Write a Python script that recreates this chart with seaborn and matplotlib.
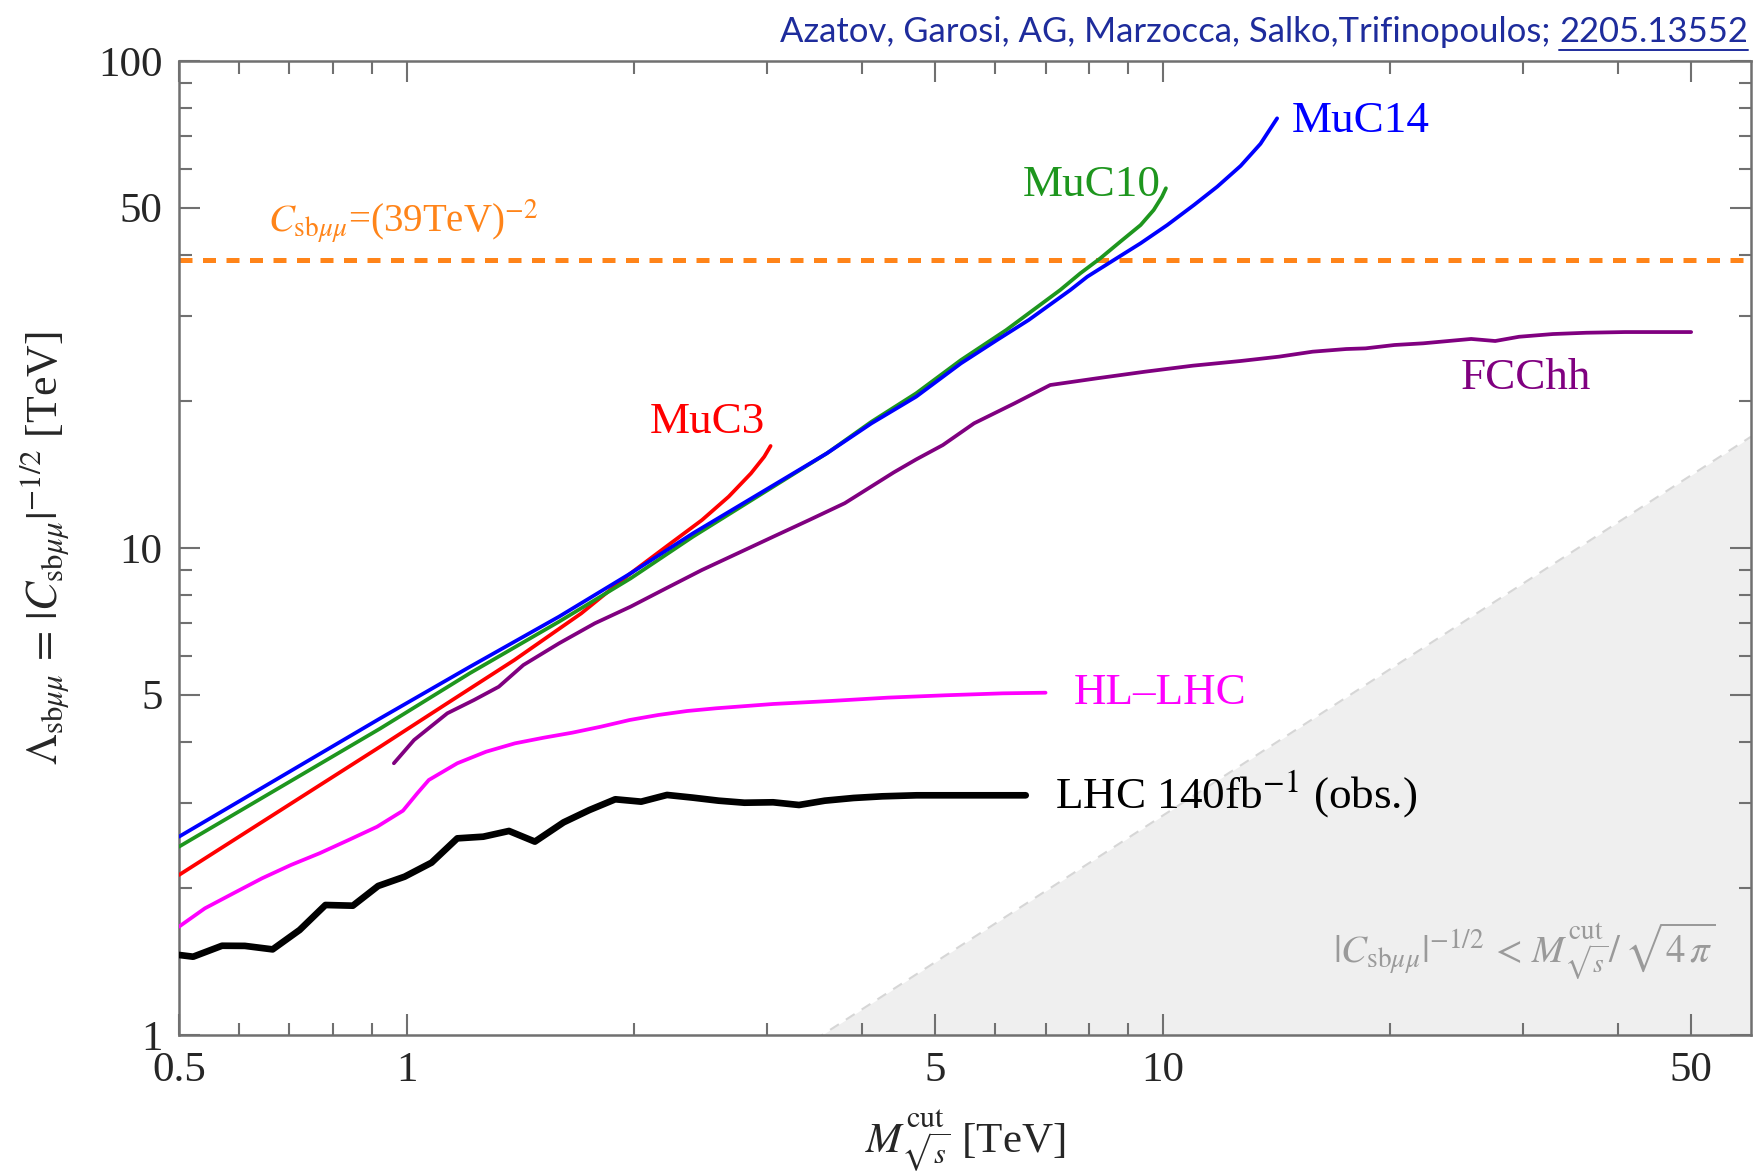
import numpy as np
import pandas as pd
import matplotlib
matplotlib.use("Agg")
import matplotlib.pyplot as plt
import seaborn as sns
from matplotlib.ticker import FixedLocator, FixedFormatter, NullFormatter
from matplotlib.lines import Line2D

# ---------------- data ----------------
muc14_x = [0.5, 0.923, 1.212, 1.591, 1.978, 2.392, 2.933, 3.597, 4.12, 4.72, 5.41, 6.04,
           6.65, 7.55, 7.95, 8.62, 9.35, 10.14, 11.0, 11.81, 12.68, 13.47, 14.17]
muc14_y = [2.554, 4.47, 5.70, 7.23, 8.87, 10.72, 12.95, 15.65, 18.03, 20.45, 23.94, 26.74,
           29.39, 33.87, 36.07, 39.03, 42.24, 46.04, 50.62, 55.21, 60.9, 67.6, 76.26]

muc10_x = [0.5, 0.923, 1.212, 1.591, 1.978, 2.392, 2.933, 3.597, 4.12, 4.72, 5.41, 6.21,
           7.32, 7.78, 8.27, 8.79, 9.35, 9.73, 9.98, 10.1]
muc10_y = [2.436, 4.26, 5.53, 7.06, 8.66, 10.55, 12.85, 15.65, 18.17, 20.78, 24.32, 28.03,
           33.87, 36.64, 39.34, 42.56, 46.04, 49.43, 52.65, 54.79]

muc3_x = [0.5, 0.923, 1.132, 1.389, 1.702, 1.978, 2.204, 2.458, 2.667, 2.854, 2.972, 3.03]
muc3_y = [2.131, 3.91, 4.80, 5.89, 7.34, 8.87, 10.06, 11.41, 12.75, 14.23, 15.40, 16.2]

fcchh_x = [0.962, 1.023, 1.132, 1.228, 1.324, 1.427, 1.591, 1.774, 1.978, 2.204, 2.458,
           2.741, 3.055, 3.406, 3.798, 4.41, 4.72, 5.12, 5.63, 6.37, 7.10, 8.175, 9.465,
           10.96, 12.68, 14.25, 15.79, 17.49, 18.55, 20.25, 22.11, 24.13, 25.59, 27.53,
           29.61, 32.81, 36.35, 40.87, 45.93, 50.0]
fcchh_y = [3.614, 4.034, 4.577, 4.874, 5.189, 5.750, 6.372, 7.004, 7.577, 8.264, 9.012,
           9.752, 10.55, 11.41, 12.36, 14.3, 15.2, 16.27, 18.03, 19.82, 21.61, 22.30, 23.01,
           23.68, 24.21, 24.71, 25.30, 25.62, 25.70, 26.11, 26.32, 26.65, 26.87, 26.61,
           27.15, 27.50, 27.67, 27.76, 27.76, 27.76]

hllhc_x = [0.5, 0.541, 0.590, 0.644, 0.703, 0.767, 0.838, 0.914, 0.989, 1.033, 1.070, 1.167,
           1.274, 1.391, 1.518, 1.656, 1.807, 1.972, 2.153, 2.350, 2.564, 3.053, 3.634,
           4.332, 5.16, 6.146, 7.0]
hllhc_y = [1.669, 1.820, 1.954, 2.098, 2.234, 2.361, 2.514, 2.677, 2.888, 3.135, 3.339, 3.614,
           3.817, 3.971, 4.078, 4.176, 4.296, 4.434, 4.541, 4.627, 4.686, 4.783, 4.851,
           4.929, 4.984, 5.030, 5.045]

lhc_x = [0.5, 0.522, 0.570, 0.611, 0.665, 0.722, 0.781, 0.849, 0.917, 0.994, 1.079, 1.167,
         1.263, 1.366, 1.478, 1.613, 1.745, 1.888, 2.043, 2.210, 2.390, 2.586, 2.798, 3.053,
         3.304, 3.574, 3.901, 4.258, 4.728, 5.631, 6.59]
lhc_y = [1.460, 1.448, 1.525, 1.524, 1.499, 1.643, 1.849, 1.843, 2.023, 2.114, 2.259, 2.534,
         2.554, 2.624, 2.495, 2.733, 2.897, 3.048, 3.014, 3.111, 3.072, 3.028, 2.999, 3.005,
         2.967, 3.028, 3.067, 3.091, 3.106, 3.106, 3.106]

c_line_level = 39.0              # C_sbmumu = (39 TeV)^-2
pert_x = [0.5, 60.0]             # |C|^-1/2 < M / sqrt(4 pi) boundary
four_pi_sqrt = np.sqrt(4 * np.pi)

x_major = [0.5, 1, 5, 10, 50]
x_major_labels = ["0.5", "1", "5", "10", "50"]
x_minor = [0.6, 0.7, 0.8, 0.9, 2, 3, 4, 6, 7, 8, 9, 20, 30, 40]
y_major = [1, 5, 10, 50, 100]
y_major_labels = ["1", "5", "10", "50", "100"]
y_minor = [2, 3, 4, 6, 7, 8, 9, 20, 30, 40, 60, 70, 80, 90]

# ---------------- style ----------------
sns.set_style("ticks")
SERIF = ["Liberation Serif", "DejaVu Serif"]
plt.rcParams["font.family"] = SERIF
plt.rcParams["mathtext.fontset"] = "stix"

W, H = 1753, 1171
fig = plt.figure(figsize=(W / 100, H / 100), dpi=100)
ax_l, ax_r, ax_t, ax_b = 179, 1751, 61, 1035
ax = fig.add_axes([ax_l / W, 1 - ax_b / H, (ax_r - ax_l) / W, (ax_b - ax_t) / H])
ax.set_xscale("log")
ax.set_yscale("log")
ax.set_xlim(0.5, 60)
ax.set_ylim(1, 100)

# perturbativity region
px = np.array(pert_x)
py = px / four_pi_sqrt
ax.fill_between(px, 1, py, color="#efefef", lw=0, zorder=0)
ax.plot(px, py, color="#d6d6d6", lw=1.5, ls=(0, (5, 4)), zorder=0.5)

# orange dashed line
ax.axhline(c_line_level, color="#ff8419", lw=3.6, dashes=(2.6, 2.1), zorder=1)

curves = [
    (lhc_x, lhc_y, "black", 4.8),
    (hllhc_x, hllhc_y, "#ff00ff", 2.7),
    (fcchh_x, fcchh_y, "#800080", 2.7),
    (muc3_x, muc3_y, "#ff0000", 2.7),
    (muc10_x, muc10_y, "#1e961e", 2.7),
    (muc14_x, muc14_y, "#0000ff", 2.7),
]
for xs, ys, col, lw in curves:
    df = pd.DataFrame({"x": xs, "y": ys})
    sns.lineplot(data=df, x="x", y="y", ax=ax, color=col, lw=lw, sort=False,
                 estimator=None, zorder=3)

# ticks
ax.xaxis.set_major_locator(FixedLocator(x_major))
ax.xaxis.set_major_formatter(FixedFormatter(x_major_labels))
ax.xaxis.set_minor_locator(FixedLocator(x_minor))
ax.xaxis.set_minor_formatter(NullFormatter())
ax.yaxis.set_major_locator(FixedLocator(y_major))
ax.yaxis.set_major_formatter(FixedFormatter(y_major_labels))
ax.yaxis.set_minor_locator(FixedLocator(y_minor))
ax.yaxis.set_minor_formatter(NullFormatter())
ax.tick_params(which="both", direction="in", top=True, right=True, color="#707070", width=1.5)
ax.tick_params(which="major", length=15, labelsize=31, pad=12)
ax.tick_params(which="minor", length=9)
for lab in ax.get_xticklabels() + ax.get_yticklabels():
    lab.set_family(SERIF)
for sp in ax.spines.values():
    sp.set_color("#707070")
    sp.set_linewidth(1.8)

ax.set_xlabel(r"$M^{\mathrm{cut}}_{\sqrt{s}}$ [TeV]", fontsize=31, family=SERIF)
ax.xaxis.set_label_coords(0.5, -0.074)
ax.xaxis.label.set_va("top")
ax.set_ylabel(r"$\Lambda_{\mathrm{sb}\mu\mu}\,=\,|C_{\mathrm{sb}\mu\mu}|^{-1/2}$ [TeV]",
              fontsize=31.5, family=SERIF)
ax.yaxis.set_label_coords(-0.069, 0.5)

# curve labels
lab_fs = 32.5
ax.text(14.8, 75.3, "MuC14", color="#0000ff", fontsize=lab_fs, ha="left", va="center")
ax.text(8.05, 55.6, "MuC10", color="#1e961e", fontsize=lab_fs, ha="center", va="center")
ax.text(2.50, 18.15, "MuC3", color="#ff0000", fontsize=lab_fs, ha="center", va="center")
ax.text(30.2, 22.34, "FCChh", color="#800080", fontsize=lab_fs, ha="center", va="center")
ax.text(7.62, 5.04, "HL\u2013LHC", color="#ff00ff", fontsize=lab_fs, ha="left", va="center")
ax.text(7.21, 3.12, r"LHC 140fb$^{-1}$ (obs.)", color="black", fontsize=lab_fs,
        ha="left", va="center")
ax.text(0.656, 44.4, r"$C_{\mathrm{sb}\mu\mu}$=(39TeV)$^{-2}$", color="#ff8419",
        fontsize=28, ha="left", va="baseline")
ax.text(53.8, 1.494,
        r"$|C_{\mathrm{sb}\mu\mu}|^{-1/2}\,<\,M^{\mathrm{cut}}_{\sqrt{s}}/\,\sqrt{4\,\pi}$",
        color="#9a9a9a", fontsize=28, ha="right", va="center")

# author / arXiv line (top right)
navy = "#1e2c9c"
fig.canvas.draw()
r = fig.canvas.get_renderer()
t_num = fig.text(1748 / W, 1 - 32 / H, "2205.13552", ha="right", va="center",
                 color=navy, fontsize=24, family="Lato")
t_main = fig.text(0, 1 - 32 / H, "Azatov, Garosi, AG, Marzocca, Salko,Trifinopoulos; ",
                  ha="right", va="center", color=navy, fontsize=24, family="Lato")
w_tot = t_num.get_window_extent(r).width + t_main.get_window_extent(r).width
fs = 24 * 967 / w_tot
t_num.set_fontsize(fs)
t_main.set_fontsize(fs)
bb = t_num.get_window_extent(r)
t_main.set_x(bb.x0 / W)
fig.canvas.draw()
bb = t_num.get_window_extent(r)
uy = (1 - 50 / H)
fig.add_artist(Line2D([bb.x0 / W, bb.x1 / W], [uy, uy], color=navy, lw=1.4,
                      transform=fig.transFigure))

fig.savefig("out.png", dpi=100)
